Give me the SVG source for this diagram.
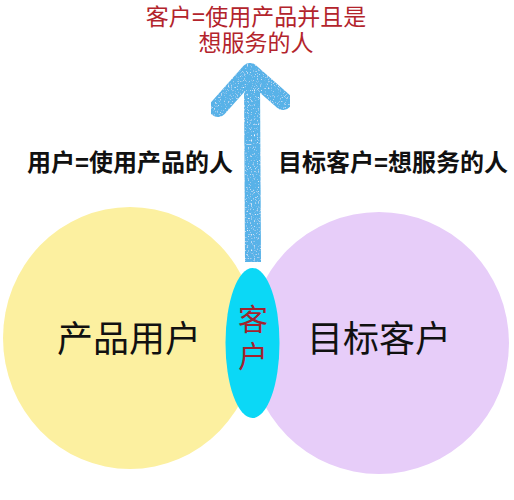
<svg xmlns="http://www.w3.org/2000/svg" width="514" height="500" viewBox="0 0 514 500">
<style>
text{font-family:"Liberation Sans","Noto Sans CJK SC",sans-serif;text-anchor:middle}
.top{font-size:23px;fill:#b3242c}
.lbl{font-size:24px;font-weight:bold;fill:#111}
.big{font-size:36px;fill:#111}
.mid{font-size:30px;fill:#a3232e}
.arrow{fill:none;stroke:#58b2e8;stroke-linecap:round;stroke-linejoin:round}
</style>
<defs>
<filter id="crayon" x="-10%" y="-10%" width="120%" height="120%">
<feTurbulence type="fractalNoise" baseFrequency="0.7" numOctaves="2" seed="4" result="n"/>
<feColorMatrix in="n" type="matrix" values="0 0 0 0 1  0 0 0 0 1  0 0 0 0 1  3 0 0 0 -1.75" result="w"/>
<feComposite in="w" in2="SourceGraphic" operator="in" result="spots"/>
<feMerge><feMergeNode in="SourceGraphic"/><feMergeNode in="spots"/></feMerge>
</filter>
</defs>
<rect width="514" height="500" fill="#fff"/>
<g id="title">
<text class="top" x="256" y="25">客户=使用产品并且是<tspan x="256" dy="26">想服务的人</tspan></text>
</g>
<g id="label-user"><text class="lbl" x="130" y="171">用户=使用产品的人</text></g>
<g id="label-target"><text class="lbl" x="393" y="171">目标客户=想服务的人</text></g>
<g id="product-users">
<ellipse cx="130" cy="338" rx="127" ry="131" fill="#fcf0a0"/>
<text class="big" x="129" y="352">产品用户</text>
</g>
<g id="target-customers">
<ellipse cx="379" cy="343" rx="130" ry="131" fill="#e7cdf9"/>
<text class="big" x="379" y="352">目标客户</text>
</g>
<g id="connectors" filter="url(#crayon)">
<path class="arrow" d="M252 80 L253 262" stroke-width="16" style="stroke-linecap:butt"/>
<path class="arrow" d="M218 108 L250 72 L283 101" stroke-width="18"/>
</g>
<g id="customers">
<ellipse cx="252.5" cy="343" rx="27" ry="75" fill="#0bd8f6"/>
<text class="mid" x="253" y="330">客<tspan x="253" dy="37">户</tspan></text>
</g>
</svg>
